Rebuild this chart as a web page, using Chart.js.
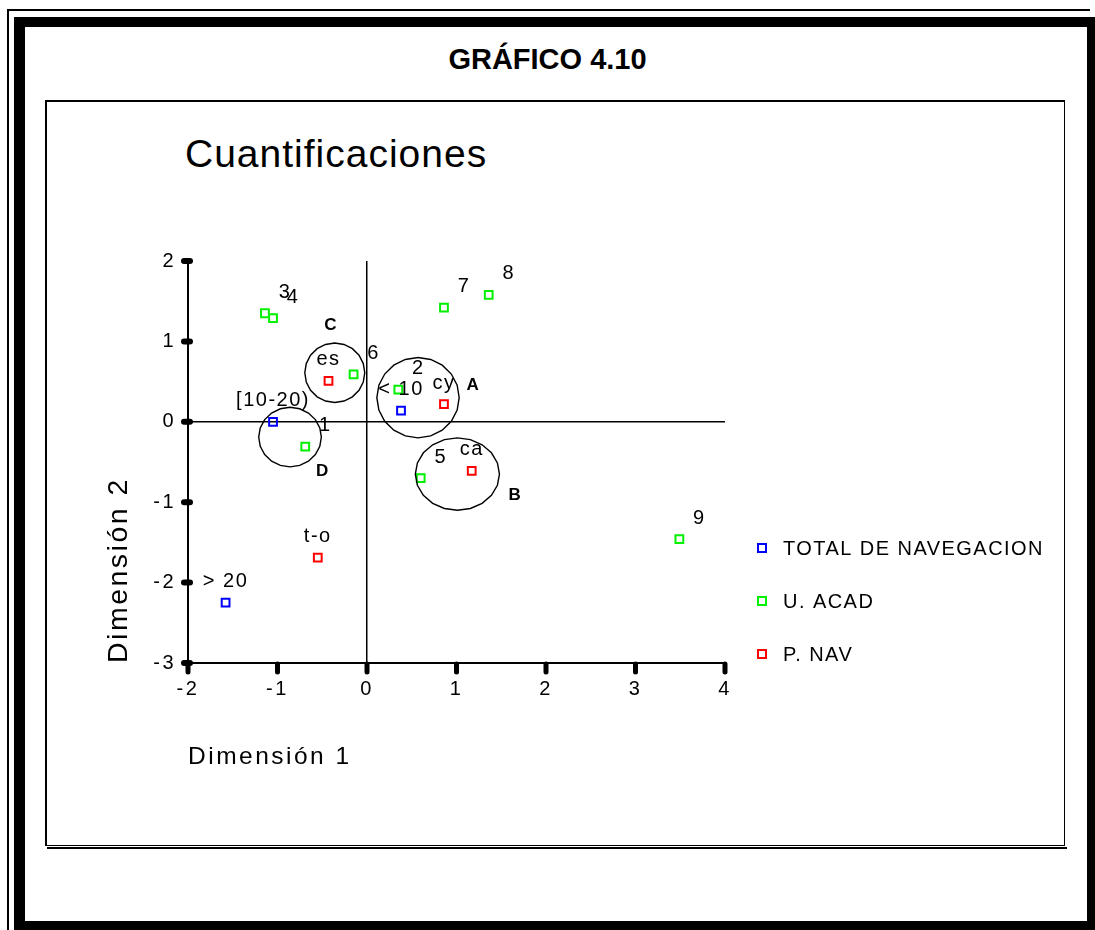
<!DOCTYPE html>
<html>
<head>
<meta charset="utf-8">
<script src="https://cdn.jsdelivr.net/npm/chart.js@4.4.0/dist/chart.umd.min.js"></script>
<style>
html,body{margin:0;padding:0;background:#fff;}
body{width:1095px;height:930px;position:relative;overflow:hidden;font-family:"Liberation Sans",Arial,sans-serif;color:#000;}
.thin{position:absolute;left:7px;top:9px;width:1083px;height:930px;border-left:2px solid #000;border-top:2px solid #000;box-sizing:border-box;}
.thick{position:absolute;left:14px;top:17px;width:1081px;height:913px;border-style:solid;border-color:#000;border-width:10px 8px 9px 11px;box-sizing:border-box;}
.panel{position:absolute;left:45px;top:100px;width:1020px;height:746px;border:2px solid #000;border-right-width:1px;border-bottom-width:1px;box-sizing:border-box;}
.shadow{position:absolute;left:47px;top:847px;width:1020px;height:2px;background:#000;}
#title{position:absolute;left:0;width:1095px;top:45px;text-align:center;font-weight:bold;font-size:29px;line-height:1;}
#sub{position:absolute;left:185px;top:134px;font-size:39px;line-height:1;letter-spacing:1px;}
#wrap{position:absolute;left:0;top:0;width:1095px;height:930px;}
</style>
</head>
<body>
<div class="thin"></div>
<div class="thick"></div>
<div class="panel"></div>
<div class="shadow"></div>
<div id="title">GRÁFICO 4.10</div>
<div id="sub">Cuantificaciones</div>
<div id="wrap"><canvas id="c" width="1095" height="930"></canvas></div>
<script>
// ---- data ----
const seriesNames = ['TOTAL DE NAVEGACION', 'U. ACAD', 'P. NAV'];

const totalLabels = ['[10-20)', '< 10', '> 20'];
const totalX = [-1.05, 0.38, -1.58];
const totalY = [0.00, 0.14, -2.25];

const acadLabels = ['1', '2', '3', '4', '5', '6', '7', '8', '9'];
const acadX = [-0.69, 0.35, -1.14, -1.05, 0.60, -0.15, 0.86, 1.36, 3.49];
const acadY = [-0.31, 0.40, 1.35, 1.29, -0.70, 0.59, 1.42, 1.58, -1.46];

const navLabels = ['es', 'cy', 'ca', 't-o'];
const navX = [-0.43, 0.86, 1.17, -0.55];
const navY = [0.51, 0.22, -0.61, -1.69];

const xTicks = [-2, -1, 0, 1, 2, 3, 4];
const yTicks = [-3, -2, -1, 0, 1, 2];

// groups circled on the map
const groupNames = ['A', 'B', 'C', 'D'];
const groupX = [0.57, 1.01, -0.36, -0.86];
const groupY = [0.30, -0.65, 0.61, -0.19];
const groupRX = [0.46, 0.47, 0.335, 0.35];
const groupRY = [0.50, 0.45, 0.37, 0.37];
const groupLabelX = [1.18, 1.65, -0.41, -0.50];
const groupLabelY = [0.46, -0.91, 1.20, -0.62];

const FONT = '"Liberation Sans", Arial, sans-serif';
Chart.defaults.font.family = FONT;
Chart.defaults.color = '#000';

function pts(xs, ys) { return xs.map((x, i) => ({x: x, y: ys[i]})); }

const colors = ['#0000ff', '#00f000', '#ff0000'];
const datasets = [
  {label: seriesNames[0], data: pts(totalX, totalY), pointLabels: totalLabels, labelShift: 0},
  {label: seriesNames[1], data: pts(acadX, acadY), pointLabels: acadLabels, labelShift: 20},
  {label: seriesNames[2], data: pts(navX, navY), pointLabels: navLabels, labelShift: 0}
].map((d, i) => Object.assign(d, {
  borderColor: colors[i],
  backgroundColor: 'rgba(0,0,0,0)',
  pointStyle: 'rect',
  pointRadius: 5.5,
  pointHoverRadius: 5.5,
  pointBorderWidth: 2,
  showLine: false
}));

const overlay = {
  id: 'overlay',
  beforeDraw(chart) { chart.ctx.letterSpacing = '2.5px'; },
  afterDatasetsDraw(chart) {
    const ctx = chart.ctx, xs = chart.scales.x, ys = chart.scales.y;
    ctx.save();
    ctx.strokeStyle = '#000';
    ctx.lineWidth = 1.4;
    ctx.fillStyle = '#000';
    groupNames.forEach((g, i) => {
      const cx = xs.getPixelForValue(groupX[i]), cy = ys.getPixelForValue(groupY[i]);
      const rx = Math.abs(xs.getPixelForValue(groupX[i] + groupRX[i]) - cx);
      const ry = Math.abs(ys.getPixelForValue(groupY[i] + groupRY[i]) - cy);
      ctx.beginPath();
      const n = 20;
      for (let k = 0; k <= n; k++) {
        const a = k / n * 2 * Math.PI;
        const px = cx + rx * Math.cos(a), py = cy + ry * Math.sin(a);
        if (k === 0) ctx.moveTo(px, py); else ctx.lineTo(px, py);
      }
      ctx.closePath();
      ctx.stroke();
      ctx.font = 'bold 17px ' + FONT;
      ctx.letterSpacing = '0px';
      ctx.textAlign = 'center';
      ctx.textBaseline = 'middle';
      ctx.fillText(g, xs.getPixelForValue(groupLabelX[i]), ys.getPixelForValue(groupLabelY[i]));
    });
    // point labels
    ctx.font = '20px ' + FONT;
    ctx.letterSpacing = '1.5px';
    ctx.textAlign = 'center';
    ctx.textBaseline = 'middle';
    chart.data.datasets.forEach((ds, di) => {
      const meta = chart.getDatasetMeta(di);
      meta.data.forEach((el, i) => {
        ctx.fillText(ds.pointLabels[i], el.x + ds.labelShift, el.y - 21);
      });
    });
    ctx.restore();
  },
  afterDraw(chart) {
    const ctx = chart.ctx, xs = chart.scales.x, ys = chart.scales.y, ca = chart.chartArea;
    ctx.save();
    ctx.strokeStyle = '#000';
    ctx.lineCap = 'round';
    // tick blobs
    ctx.lineWidth = 5;
    xs.ticks.forEach(t => {
      const p = xs.getPixelForValue(t.value);
      ctx.beginPath(); ctx.moveTo(p, ca.bottom + 1); ctx.lineTo(p, ca.bottom + 9); ctx.stroke();
    });
    ctx.lineWidth = 6;
    ys.ticks.forEach(t => {
      const p = ys.getPixelForValue(t.value);
      ctx.beginPath(); ctx.moveTo(ca.left - 4, p); ctx.lineTo(ca.left + 2, p); ctx.stroke();
    });
    // legend
    ctx.lineCap = 'butt';
    const n = chart.data.datasets.length;
    chart.data.datasets.forEach((ds, i) => {
      const cy = ca.bottom - 9 - 53 * (n - 1 - i);
      const bx = ca.right + 37;
      ctx.strokeStyle = ds.borderColor;
      ctx.lineWidth = 2;
      ctx.strokeRect(bx - 4, cy - 4, 8, 8);
      ctx.fillStyle = '#000';
      ctx.font = '20px ' + FONT;
      ctx.letterSpacing = '1.45px';
      ctx.textAlign = 'left';
      ctx.textBaseline = 'middle';
      ctx.fillText(ds.label, bx + 21, cy + 1);
    });
    ctx.restore();
    ctx.letterSpacing = '0px';
  }
};

const zeroLine = c => (c.tick && c.tick.value === 0) ? '#000' : 'rgba(0,0,0,0)';

new Chart(document.getElementById('c'), {
  type: 'scatter',
  data: {datasets: datasets},
  options: {
    responsive: false,
    animation: false,
    events: [],
    layout: {padding: {left: 81, top: 261, right: 370, bottom: 130}},
    plugins: {legend: {display: false}, tooltip: {enabled: false}, title: {display: false}},
    scales: {
      x: {
        type: 'linear', position: 'bottom', min: -2, max: 4,
        afterBuildTicks: s => { s.ticks = xTicks.map(v => ({value: v})); },
        afterFit: s => { s.height = 137; },
        ticks: {font: {size: 20}, color: '#000', padding: 6, callback: v => String(v)},
        grid: {color: zeroLine, lineWidth: 1.5, drawTicks: true, tickLength: 8, tickColor: 'rgba(0,0,0,0)'},
        border: {display: true, color: '#000', width: 2},
        title: {display: true, text: 'Dimensión 1', align: 'start', font: {size: 24.5}, color: '#000', padding: {top: 0, bottom: 28}}
      },
      y: {
        type: 'linear', position: 'left', min: -3, max: 2,
        afterBuildTicks: s => { s.ticks = yTicks.map(v => ({value: v})); },
        afterFit: s => { s.width = 107; },
        ticks: {font: {size: 20}, color: '#000', padding: 6, callback: v => String(v)},
        grid: {color: zeroLine, lineWidth: 1.5, drawTicks: true, tickLength: 6, tickColor: 'rgba(0,0,0,0)'},
        border: {display: true, color: '#000', width: 2},
        title: {display: true, text: 'Dimensión 2', align: 'start', font: {size: 28.5}, color: '#000', padding: {top: 21, bottom: 0}}
      }
    }
  },
  plugins: [overlay]
});
</script>
</body>
</html>
